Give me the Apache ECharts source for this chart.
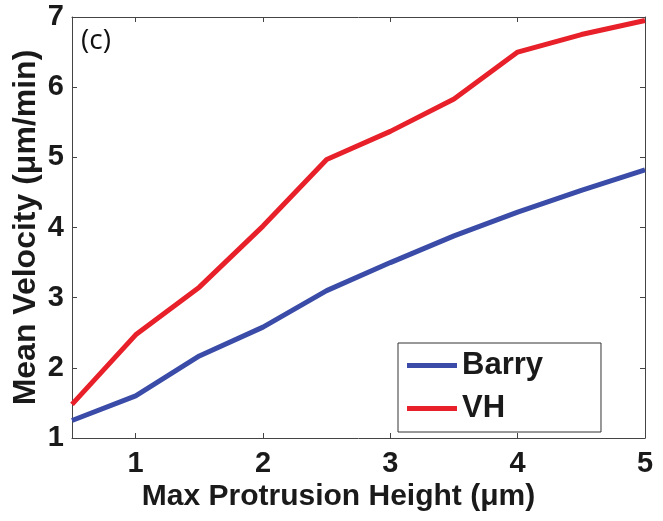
<!DOCTYPE html>
<html>
<head>
<meta charset="utf-8">
<script src="https://cdn.jsdelivr.net/npm/echarts@6/dist/echarts.min.js"></script>
<style>
  html, body { margin: 0; padding: 0; background: #fff; }
  #chart { width: 663px; height: 521px; }
</style>
</head>
<body>
<div id="chart"></div>
<script>
const heights = [0.5, 1, 1.5, 2, 2.5, 3, 3.5, 4, 4.5, 5];
const barry = [1.25, 1.6, 2.17, 2.58, 3.1, 3.5, 3.88, 4.22, 4.53, 4.82];
const vh = [1.48, 2.47, 3.15, 4.02, 4.97, 5.37, 5.83, 6.5, 6.75, 6.95];

const FONT = '"Liberation Sans", Arial, sans-serif';
const AXIS_COLOR = '#444';
const TEXT = '#1a1a1a';

const chart = echarts.init(document.getElementById('chart'), null, { renderer: 'canvas' });

const pairs = arr => heights.map((x, i) => [x, arr[i]]);

function tickAxis(extra) {
    return Object.assign({
        type: 'value',
        nameMoveOverlap: false,
        axisLine: { show: true, lineStyle: { color: AXIS_COLOR, width: 1 } },
        axisTick: { show: true, inside: true, length: 5, lineStyle: { color: AXIS_COLOR } },
        splitLine: { show: false },
    }, extra);
}

const xTicks = {
    show: true, inside: true, length: 5, lineStyle: { color: AXIS_COLOR },
    customValues: [1, 2, 3, 4, 5],
};

chart.setOption({
    animation: false,
    grid: { left: 72, right: 18, top: 17, bottom: 83, containLabel: false, outerBoundsMode: 'none' },
    xAxis: [
        tickAxis({
            position: 'bottom', min: 0.5, max: 5, interval: 0.5,
            axisLabel: {
                fontFamily: FONT, fontWeight: 'bold', fontSize: 29, color: TEXT, margin: 11,
                formatter: v => Number.isInteger(v) ? String(v) : '',
            },
            axisTick: xTicks,
            name: 'Max Protrusion Height (\u03bcm)', nameLocation: 'middle', nameGap: 44,
            nameTextStyle: { fontFamily: FONT, fontWeight: 'bold', fontSize: 30, color: TEXT, padding: [0, 40, 0, 0] },
        }),
        tickAxis({
            position: 'top', min: 0.5, max: 5, interval: 0.5,
            axisLabel: { show: false },
            axisTick: xTicks,
        }),
    ],
    yAxis: [
        tickAxis({
            position: 'left', min: 1, max: 7, interval: 1,
            axisLabel: { fontFamily: FONT, fontWeight: 'bold', fontSize: 29, color: TEXT, margin: 8 },
            name: 'Mean Velocity (\u03bcm/min)', nameLocation: 'middle', nameGap: 30,
            nameTextStyle: { fontFamily: FONT, fontWeight: 'bold', fontSize: 32, color: TEXT },
        }),
        tickAxis({
            position: 'right', min: 1, max: 7, interval: 1,
            axisLabel: { show: false },
        }),
    ],
    legend: {
        orient: 'vertical',
        left: 398, top: 343,
        padding: [7, 58, 8, 9],
        itemGap: 12,
        itemWidth: 50, itemHeight: 5,
        icon: 'rect',
        backgroundColor: '#fff',
        borderColor: '#333', borderWidth: 1,
        textStyle: { fontFamily: FONT, fontWeight: 'bold', fontSize: 31, color: TEXT },
        data: ['Barry', 'VH'],
    },
    graphic: [{
        type: 'text', left: 81, top: 27,
        style: { text: '(c)', fontFamily: '"Open Sans", "DejaVu Sans", sans-serif', fontSize: 28, fill: '#111' },
    }],
    series: [
        {
            name: 'Barry', type: 'line', data: pairs(barry),
            showSymbol: false, lineStyle: { width: 5, color: '#3a4ca8' }, itemStyle: { color: '#3a4ca8' },
        },
        {
            name: 'VH', type: 'line', data: pairs(vh),
            showSymbol: false, lineStyle: { width: 5, color: '#e8202a' }, itemStyle: { color: '#e8202a' },
        },
    ],
});
</script>
</body>
</html>
